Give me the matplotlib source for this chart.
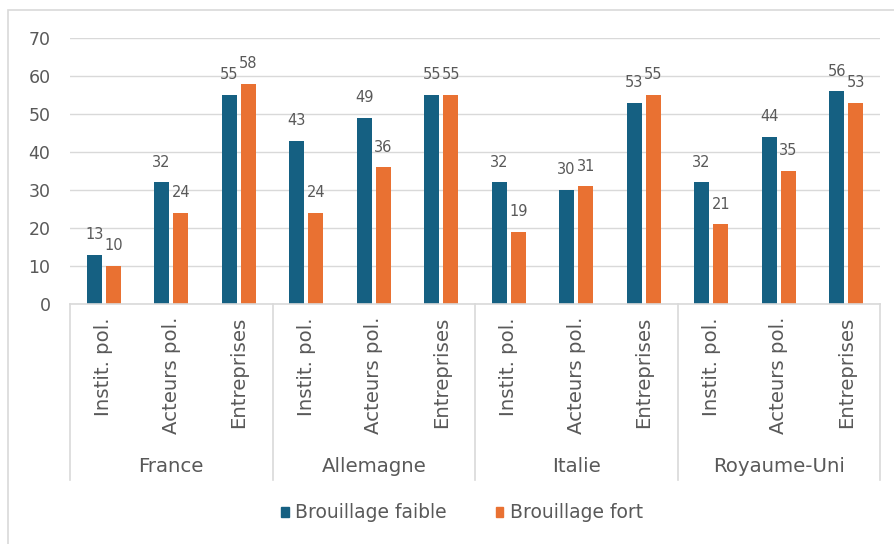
import matplotlib
matplotlib.use("Agg")
import matplotlib.pyplot as plt
from matplotlib.patches import Patch, Rectangle
from matplotlib.lines import Line2D
import numpy as np

groups = ["France", "Allemagne", "Italie", "Royaume-Uni"]
categories = ["Instit. pol.", "Acteurs pol.", "Entreprises"]
series_names = ["Brouillage faible", "Brouillage fort"]
faible = [13, 32, 55, 43, 49, 55, 32, 30, 53, 32, 44, 56]
fort = [10, 24, 58, 24, 36, 55, 19, 31, 55, 21, 35, 53]
yticks = [0, 10, 20, 30, 40, 50, 60, 70]

BLUE = "#156082"
ORANGE = "#E97132"
TXT = "#595959"
GRID = "#D9D9D9"

plt.rcParams['font.family'] = ['DejaVu Sans']

W, H = 895, 544
fig = plt.figure(figsize=(W/100, H/100), dpi=100)
ax_left, ax_right = 70, 880
ax_top, ax_bot = 38, 304
ax = fig.add_axes([ax_left/W, 1-ax_bot/H, (ax_right-ax_left)/W, (ax_bot-ax_top)/H])

# border
fig.patches.append(Rectangle((8/W, -0.2), 2, 1.2-10/H, transform=fig.transFigure,
                             fill=False, edgecolor=GRID, lw=1.2))

n = len(faible)
x = np.arange(n)
bw = 0.22
off = 0.142
b1 = ax.bar(x-off, faible, bw, color=BLUE, zorder=3)
b2 = ax.bar(x+off, fort, bw, color=ORANGE, zorder=3)

for bars, vals in ((b1, faible), (b2, fort)):
    for rect, v in zip(bars, vals):
        ax.annotate(str(v), (rect.get_x()+rect.get_width()/2, v), xytext=(0, 14.5),
                    textcoords='offset points', ha='center', va='center',
                    fontsize=10.5, color=TXT)

ax.set_xlim(-0.5, n-0.5)
ax.set_ylim(0, 70)
ax.set_yticks(yticks)
ax.tick_params(axis='y', length=0, labelsize=12.5, labelcolor=TXT, pad=14)
ax.set_xticks([])
for s in ax.spines.values():
    s.set_visible(False)
ax.grid(axis='y', color=GRID, lw=1.0, zorder=0)
ax.set_axisbelow(True)

tr = ax.get_xaxis_transform()
hpx = ax_bot-ax_top
def ypx(px):
    return (ax_bot-px)/hpx

# x axis baseline
ax.add_line(Line2D([-0.5, n-0.5], [0, 0], transform=tr, color=GRID, lw=1.2, clip_on=False, zorder=4))
# group separators
for k in range(len(groups)+1):
    xx = -0.5 + 3*k
    ax.add_line(Line2D([xx, xx], [0, ypx(480)], transform=tr, color=GRID, lw=1.2, clip_on=False))

for i in range(n):
    ax.text(x[i], ypx(317), categories[i % 3], rotation=90, ha='center', va='top',
            transform=tr, fontsize=14.2, color=TXT)
for g, name in enumerate(groups):
    ax.text(3*g+1, ypx(466), name, ha='center', va='center', transform=tr,
            fontsize=14.2, color=TXT)

handles = [Patch(color=BLUE), Patch(color=ORANGE)]
fig.legend(handles, series_names, loc='center', bbox_to_anchor=(462/W, 1-513/H),
           ncol=2, frameon=False, fontsize=13.5, labelcolor=TXT,
           handlelength=0.42, handleheight=0.42, handletextpad=0.35, columnspacing=2.6)

fig.savefig("out.png", dpi=100)
